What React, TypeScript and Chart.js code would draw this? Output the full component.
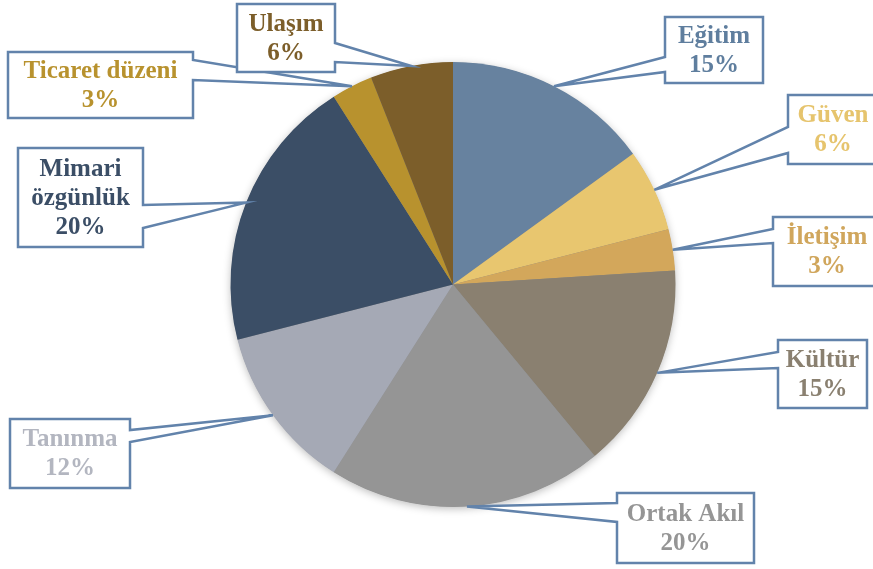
import React, { useEffect, useRef } from "react";
import { Chart, registerables } from "chart.js";

Chart.register(...registerables);

const categories = ["Eğitim", "Güven", "İletişim", "Kültür", "Ortak Akıl", "Tanınma", "Mimari özgünlük", "Ticaret düzeni", "Ulaşım"];
const values = [15, 6, 3, 15, 20, 12, 20, 3, 6];
const labelLines = [["Eğitim"], ["Güven"], ["İletişim"], ["Kültür"], ["Ortak Akıl"], ["Tanınma"], ["Mimari", "özgünlük"], ["Ticaret düzeni"], ["Ulaşım"]];
const sliceColors = ["#67829f", "#e8c66f", "#d3a75b", "#8a8070", "#959595", "#a5a9b5", "#3b4e66", "#b8922e", "#7c5e2a"];
const textColors = ["#5f7e9e", "#e6c46d", "#d0a65c", "#8a8070", "#959595", "#b3b6c0", "#3b4e66", "#b8922e", "#7c5e2a"];

// callout boxes: [left, top, right, bottom], pointer side, pointer base y's
const callouts = [
  { box: [665, 17, 763, 83], side: "left", base: [57, 72] },
  { box: [788, 95, 878, 164], side: "left", base: [127, 153] },
  { box: [773, 217, 881, 286], side: "left", base: [229, 243] },
  { box: [778, 340, 867, 408], side: "left", base: [352, 368] },
  { box: [617, 493, 754, 563], side: "left", base: [503, 522] },
  { box: [10, 419, 130, 488], side: "right", base: [430, 442] },
  { box: [18, 148, 143, 247], side: "right", base: [205, 228] },
  { box: [8, 52, 193, 118], side: "right", base: [60, 80] },
  { box: [237, 4, 335, 72], side: "right", base: [43, 62] },
];

const FONT = "bold 25px 'Liberation Serif', 'DejaVu Serif', serif";
const LINE_H = 29;
const BOX_COLOR = "#6283ab";

const shadowPlugin = {
  id: "pieShadow",
  beforeDatasetsDraw(chart: any) {
    const meta = chart.getDatasetMeta(0);
    const a = meta.data[0];
    if (!a) return;
    const ctx = chart.ctx;
    ctx.save();
    ctx.shadowColor = "rgba(0,0,0,0.28)";
    ctx.shadowBlur = 9;
    ctx.shadowOffsetX = 0;
    ctx.shadowOffsetY = 2;
    ctx.fillStyle = "#888";
    ctx.beginPath();
    ctx.arc(a.x, a.y, a.outerRadius - 0.5, 0, Math.PI * 2);
    ctx.fill();
    ctx.restore();
  },
};

const calloutPlugin = {
  id: "callouts",
  afterDatasetsDraw(chart: any) {
    const meta = chart.getDatasetMeta(0);
    const ctx = chart.ctx;
    ctx.save();
    meta.data.forEach((arc: any, i: number) => {
      const c = callouts[i];
      if (!c) return;
      const mid = (arc.startAngle + arc.endAngle) / 2;
      const ax = arc.x + Math.cos(mid) * arc.outerRadius;
      const ay = arc.y + Math.sin(mid) * arc.outerRadius;
      const [l, t, r, b] = c.box;
      const [y1, y2] = c.base;
      ctx.beginPath();
      if (c.side === "left") {
        ctx.moveTo(l, t);
        ctx.lineTo(r, t);
        ctx.lineTo(r, b);
        ctx.lineTo(l, b);
        ctx.lineTo(l, y2);
        ctx.lineTo(ax, ay);
        ctx.lineTo(l, y1);
      } else {
        ctx.moveTo(l, t);
        ctx.lineTo(r, t);
        ctx.lineTo(r, y1);
        ctx.lineTo(ax, ay);
        ctx.lineTo(r, y2);
        ctx.lineTo(r, b);
        ctx.lineTo(l, b);
      }
      ctx.closePath();
      ctx.fillStyle = "#ffffff";
      ctx.fill();
      ctx.lineWidth = 2.5;
      ctx.lineJoin = "miter";
      ctx.strokeStyle = BOX_COLOR;
      ctx.stroke();

      const lines = [...labelLines[i], `${values[i]}%`];
      const cx = (l + r) / 2;
      const cy = (t + b) / 2;
      ctx.font = FONT;
      ctx.fillStyle = textColors[i];
      ctx.textAlign = "center";
      ctx.textBaseline = "middle";
      lines.forEach((s, k) => {
        const y = cy + (k - (lines.length - 1) / 2) * LINE_H;
        ctx.fillText(s, cx, y + 1);
      });
    });
    ctx.restore();
  },
};

export default function App() {
  const ref = useRef<HTMLCanvasElement | null>(null);
  useEffect(() => {
    if (!ref.current) return;
    const chart = new Chart(ref.current, {
      type: "pie",
      data: {
        labels: categories,
        datasets: [
          {
            data: values,
            backgroundColor: sliceColors,
            borderWidth: 0,
          },
        ],
      },
      options: {
        responsive: false,
        animation: false,
        layout: { padding: { left: 230, right: 197, top: 62, bottom: 62 } },
        plugins: {
          legend: { display: false },
          tooltip: { enabled: false },
        },
      },
      plugins: [shadowPlugin, calloutPlugin],
    });
    return () => chart.destroy();
  }, []);
  return (
    <div style={{ position: "absolute", left: 0, top: 0, width: 873, height: 569, background: "#fff" }}>
      <canvas ref={ref} width={873} height={569} style={{ display: "block" }} />
    </div>
  );
}
